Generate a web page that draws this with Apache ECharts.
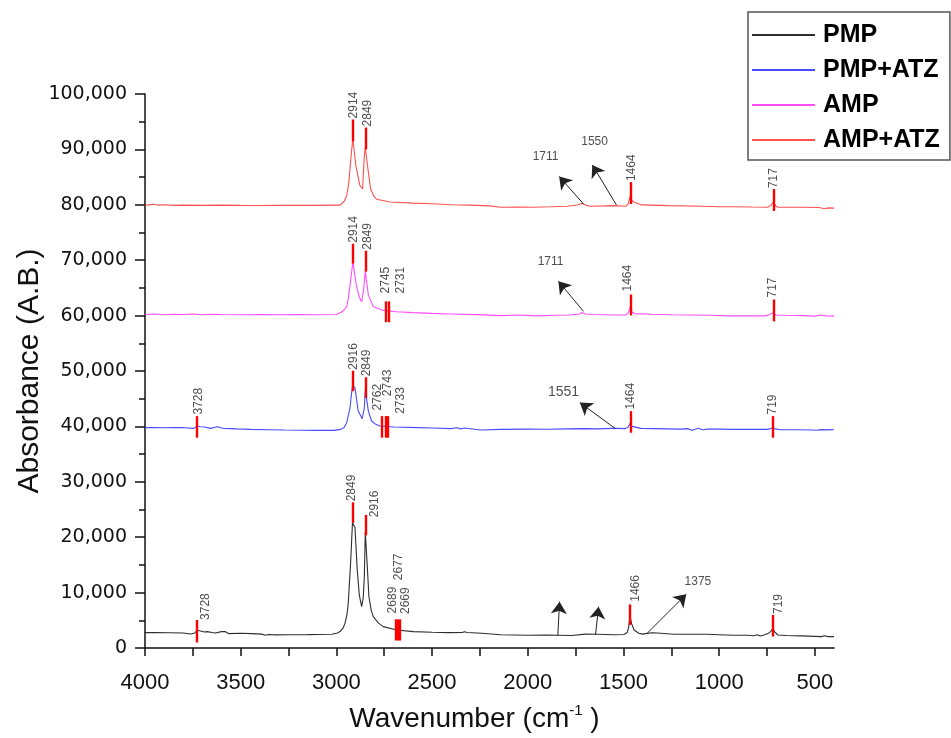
<!DOCTYPE html>
<html>
<head>
<meta charset="utf-8">
<script src="https://cdn.jsdelivr.net/npm/echarts@6/dist/echarts.min.js"></script>
<style>
  html, body { margin: 0; padding: 0; background: #fff; }
  #chart { width: 951px; height: 738px; }
</style>
</head>
<body>
<div id="chart"></div>
<script>
// ---- Data ([wavenumber cm-1, absorbance]) ----
const seriesNames = ['PMP', 'PMP+ATZ', 'AMP', 'AMP+ATZ'];
const seriesColors = ['#2e2e2e', '#4a4aff', '#ff4dff', '#ff5050'];

const pmpData = [
  [4000, 2780], [3950, 2800], [3880, 2750], [3800, 2700], [3761, 2540], [3740, 2700], [3728, 3200],
  [3715, 3100], [3690, 2900], [3675, 2960], [3650, 2800], [3632, 2700], [3600, 2950], [3590, 2850],
  [3580, 2950], [3563, 2600], [3500, 2650], [3441, 2600], [3390, 2500], [3370, 2300], [3355, 2450],
  [3316, 2370], [3250, 2400], [3150, 2420], [3100, 2450], [3024, 2480], [2995, 2700], [2981, 2960],
  [2965, 3600], [2955, 4450], [2945, 6000], [2938, 8040], [2925, 15830], [2916, 22590], [2903, 21810],
  [2891, 14040], [2880, 9500], [2868, 7450], [2860, 9000], [2854, 12840], [2849, 20920], [2839, 15000],
  [2830, 9250], [2818, 6800], [2807, 5660], [2780, 4500], [2755, 3860], [2685, 3260], [2598, 2960],
  [2500, 2850], [2414, 2780], [2343, 2800], [2330, 2950], [2317, 2800],
  [2240, 2660], [2142, 2400], [2000, 2300], [1900, 2350], [1843, 2300], [1768, 2250], [1760, 2500],
  [1700, 2500], [1637, 2480], [1550, 2400], [1498, 2450], [1480, 2800], [1472, 4000], [1466, 5780],
  [1458, 4450], [1445, 3260], [1420, 2660], [1400, 2500], [1385, 2600], [1375, 2900], [1350, 2750],
  [1323, 2700], [1236, 2480], [1150, 2480], [1062, 2480], [1000, 2400], [923, 2300], [850, 2300],
  [819, 2200], [800, 2400], [785, 2150], [767, 2350], [745, 2600], [730, 3000], [719, 3560], [710, 2900],
  [693, 2350], [650, 2250], [570, 2180], [500, 2100], [466, 2050], [450, 2200], [430, 2050], [400, 2060]
];

const pmpAtzData = [
  [4000, 39770], [3950, 39800], [3900, 39750], [3850, 39800], [3796, 39770], [3744, 39640], [3728, 40070],
  [3710, 39950], [3690, 39890], [3656, 39640], [3640, 39800], [3621, 39950], [3600, 39700], [3587, 39640],
  [3520, 39550], [3447, 39460], [3350, 39400], [3273, 39350], [3180, 39300], [3099, 39280], [3013, 39280],
  [2977, 39460], [2960, 39800], [2946, 40660], [2929, 43360], [2916, 47430], [2903, 46950], [2886, 42770],
  [2865, 41380], [2854, 43360], [2849, 46640], [2833, 42770], [2816, 40970], [2795, 40400], [2772, 40070],
  [2699, 39890], [2577, 39770], [2500, 39700],
  [2403, 39600], [2370, 39750], [2351, 39550], [2330, 39700], [2246, 39350], [2142, 39460], [2000, 39500],
  [1900, 39480], [1800, 39550], [1700, 39600], [1637, 39550], [1560, 39640], [1542, 39640], [1490, 39600],
  [1475, 39900], [1464, 40660], [1455, 40000], [1446, 39900], [1409, 39640], [1350, 39600], [1270, 39550],
  [1200, 39500], [1167, 39600], [1140, 39300], [1110, 39650], [1085, 39400], [1062, 39500], [1000, 39500],
  [923, 39460], [850, 39460], [749, 39460], [730, 39600], [719, 39770], [708, 39550], [680, 39390],
  [600, 39400], [520, 39350], [489, 39300], [470, 39420], [440, 39380], [402, 39410]
];

const ampData = [
  [4000, 60200], [3950, 60300], [3900, 60150], [3850, 60250], [3800, 60200], [3750, 60300], [3700, 60150],
  [3650, 60250], [3600, 60200], [3500, 60150], [3400, 60200], [3300, 60150], [3200, 60200], [3100, 60150],
  [3000, 60200], [2993, 60300], [2975, 60600], [2960, 61000], [2946, 61600], [2937, 63300], [2929, 65360],
  [2914, 69640], [2895, 65360], [2880, 63300], [2868, 62500], [2858, 64500], [2849, 68040], [2833, 63700],
  [2807, 61600], [2757, 60950], [2685, 60700], [2600, 60540],
  [2500, 60400], [2400, 60300], [2266, 60180], [2142, 60000], [2050, 60100], [1950, 59950], [1850, 60050],
  [1780, 60100], [1730, 60300], [1716, 60540], [1700, 60300], [1650, 60200], [1550, 60100], [1490, 60100],
  [1475, 60500], [1464, 61600], [1455, 60600], [1440, 60360], [1350, 60250], [1250, 60150], [1150, 60100],
  [1050, 60050], [950, 59950], [850, 59950], [760, 59950], [735, 60200], [717, 60540], [705, 60100],
  [650, 60050], [560, 60000], [500, 59900], [470, 60100], [440, 59950], [400, 59900]
];

const ampAtzData = [
  [4000, 79900], [3960, 80100], [3930, 79950], [3900, 80000], [3850, 79900], [3800, 79950], [3700, 79900],
  [3600, 79950], [3500, 79900], [3400, 79880], [3300, 79900], [3200, 79900], [3100, 79900], [3000, 79950],
  [2981, 79950], [2960, 80600], [2946, 81650], [2936, 83800], [2929, 86440], [2920, 90040], [2914, 91830],
  [2898, 87040], [2877, 83450], [2863, 82850], [2854, 88830], [2849, 90340], [2833, 85900], [2821, 82840],
  [2805, 81600], [2790, 81000], [2720, 80500],
  [2600, 80300], [2500, 80200], [2400, 80000], [2300, 79950], [2200, 79800], [2142, 79570], [2050, 79600],
  [1970, 79570], [1880, 79650], [1794, 79750], [1740, 79950], [1716, 80290], [1695, 79900], [1672, 79750],
  [1600, 79800], [1550, 79850], [1486, 79750], [1475, 80200], [1464, 81650], [1456, 80800], [1445, 80470],
  [1404, 79980], [1266, 79860], [1180, 79800], [1093, 79750], [1000, 79650], [919, 79650], [830, 79600],
  [746, 79570], [730, 79900], [717, 80470], [705, 79800], [693, 79570], [570, 79570], [480, 79500],
  [447, 79300], [430, 79450], [400, 79400]
];

// Red peak marks: [wavenumber position, low, high]
const peakMarks = [
  [2914, 91450, 95400], [2849, 90000, 93950], [1464, 80150, 84100], [717, 78890, 82840],
  [2914, 69380, 72970], [2849, 67940, 71710], [2743, 58800, 62570], [2724, 58800, 62570], [1464, 60040, 63810], [717, 58960, 62910],
  [3728, 37960, 41860], [2916, 46350, 50040], [2849, 45140, 48860], [2762, 37960, 41860], [2743, 37960, 41860], [2733, 37960, 41860], [1464, 38860, 42760], [719, 37960, 41860],
  [3728, 990, 5060], [2916, 22580, 26300], [2849, 20320, 24020], [2689, 1350, 5170], [2680, 1350, 5170], [2669, 1350, 5170], [1466, 4160, 7860], [719, 2060, 5960]
];

// Vertical peak labels: [wavenumber, value at text start, text]
const peakLabels = [
  [2909, 95590, '2914'], [2839, 94150, '2849'], [1456, 84280, '1464'], [715, 83020, '717'],
  [2909, 73150, '2914'], [2839, 71890, '2849'], [2745, 63990, '2745'], [2664, 63990, '2731'], [1479, 64350, '1464'], [722, 63270, '717'],
  [3717, 42150, '3728'], [2911, 50220, '2916'], [2840, 49040, '2849'], [2785, 42860, '2762'], [2734, 45450, '2743'], [2664, 42270, '2733'], [1461, 43040, '1464'], [720, 42150, '719'],
  [3685, 5060, '3728'], [2922, 26480, '2849'], [2798, 23600, '2916'], [2707, 6250, '2689'], [2673, 12240, '2677'], [2638, 6140, '2669'], [1437, 8350, '1466'], [691, 6140, '719']
];

// Arrows: [tail wavenumber, tail value, head wavenumber, head value]
const arrows = [
  [1709, 80160, 1836, 85100], [1537, 79980, 1663, 87200],
  [1709, 60770, 1840, 66200],
  [1542, 39590, 1728, 44300],
  [1843, 2244, 1834, 8350], [1646, 2370, 1630, 7450], [1376, 2660, 1172, 9700]
];

// Horizontal arrow labels: [wavenumber, value, text, font size]
const arrowLabels = [
  [1907, 88600, '1711', 12], [1651, 91470, '1550', 12], [1881, 69750, '1711', 12],
  [1813, 46230, '1551', 14], [1111, 11990, '1375', 12]
];

const xTickValues = [500, 750, 1000, 1250, 1500, 1750, 2000, 2250, 2500, 2750, 3000, 3250, 3500, 3750, 4000];
const xLabelValues = [500, 1000, 1500, 2000, 2500, 3000, 3500, 4000];

// ---- Chart ----
const chart = echarts.init(document.getElementById('chart'), null, { renderer: 'canvas' });
const spectra = [pmpData, pmpAtzData, ampData, ampAtzData];
const font = 'Liberation Sans, Arial, sans-serif';

const series = spectra.map((d, i) => ({
  name: seriesNames[i],
  type: 'line',
  data: d,
  symbol: 'none',
  showSymbol: false,
  silent: true,
  lineStyle: { color: seriesColors[i], width: 1.1 },
  itemStyle: { color: seriesColors[i] },
  z: 2
}));

series.push({
  name: 'marks',
  type: 'scatter',
  data: [],
  silent: true,
  z: 5,
  markLine: {
    silent: true,
    animation: false,
    symbol: ['none', 'none'],
    label: { show: false },
    lineStyle: { color: '#ff0000', width: 2.4, type: 'solid' },
    emphasis: { disabled: true },
    data: peakMarks.map(m => [{ coord: [m[0], m[1]] }, { coord: [m[0], m[2]] }])
  }
});

series.push({
  name: 'arrows',
  type: 'scatter',
  data: [],
  silent: true,
  z: 6,
  markLine: {
    silent: true,
    animation: false,
    symbol: ['none', 'arrow'],
    symbolSize: 12,
    label: { show: false },
    lineStyle: { color: '#222', width: 1, type: 'solid' },
    itemStyle: { color: '#111' },
    emphasis: { disabled: true },
    data: arrows.map(a => [{ coord: [a[0], a[1]] }, { coord: [a[2], a[3]] }])
  }
});

series.push({
  name: 'peakText',
  type: 'scatter',
  silent: true,
  z: 7,
  symbolSize: 1,
  itemStyle: { color: 'rgba(0,0,0,0)' },
  data: peakLabels.map(l => ({
    value: [l[0], l[1]],
    label: {
      show: true, formatter: l[2], position: 'inside', rotate: 90,
      align: 'left', verticalAlign: 'middle',
      fontFamily: font, fontSize: 12, color: '#222'
    }
  }))
});

series.push({
  name: 'arrowText',
  type: 'scatter',
  silent: true,
  z: 7,
  symbolSize: 1,
  itemStyle: { color: 'rgba(0,0,0,0)' },
  data: arrowLabels.map(l => ({
    value: [l[0], l[1]],
    label: {
      show: true, formatter: l[2], position: 'inside',
      align: 'center', verticalAlign: 'middle',
      fontFamily: font, fontSize: l[3], color: '#222'
    }
  }))
});

chart.setOption({
  animation: false,
  backgroundColor: '#fff',
  grid: { left: 145, right: 117, top: 94, bottom: 87, containLabel: false },
  legend: {
    data: seriesNames,
    orient: 'vertical',
    left: 748, top: 12,
    icon: 'rect',
    itemWidth: 63, itemHeight: 2, itemGap: 7,
    padding: [9, 10, 6, 4],
    backgroundColor: '#fff',
    borderColor: '#555', borderWidth: 1.5, borderRadius: 0,
    selectedMode: false,
    textStyle: { fontFamily: font, fontSize: 25, fontWeight: 'bold', color: '#000', lineHeight: 28, padding: [0, 0, 0, 3] }
  },
  xAxis: {
    type: 'value',
    min: 400, max: 4000,
    inverse: true,
    name: '{a|Wavenumber (cm}{s|-1}{a| )}',
    nameLocation: 'middle',
    nameGap: 55,
    nameMoveOverlap: false,
    nameTextStyle: {
      padding: [0, 30, 0, 0],
      rich: {
        a: { fontFamily: font, fontSize: 28, color: '#111', lineHeight: 32 },
        s: { fontFamily: font, fontSize: 15, color: '#111', lineHeight: 16, verticalAlign: 'top' }
      }
    },
    axisLine: { show: true, onZero: false, lineStyle: { color: '#111', width: 1.5 } },
    axisTick: { show: true, inside: false, length: 8, customValues: xTickValues, lineStyle: { color: '#111', width: 1.5 } },
    axisLabel: {
      customValues: xLabelValues, fontFamily: font, fontSize: 22, color: '#111', margin: 24,
      formatter: v => String(v)
    },
    splitLine: { show: false }
  },
  yAxis: {
    type: 'value',
    min: 0, max: 100000, interval: 10000,
    name: 'Absorbance (A.B.)',
    nameLocation: 'middle',
    nameGap: 100,
    nameMoveOverlap: false,
    nameTextStyle: { fontFamily: font, fontSize: 30, color: '#111' },
    axisLine: { show: true, onZero: false, lineStyle: { color: '#111', width: 1.5 } },
    axisTick: { show: true, inside: false, length: 10, lineStyle: { color: '#111', width: 1.5 } },
    minorTick: { show: true, splitNumber: 2, length: 6, lineStyle: { color: '#111', width: 1.5 } },
    axisLabel: {
      fontFamily: 'DejaVu Sans, sans-serif', fontSize: 19, color: '#111', margin: 18,
      formatter: v => String(v).replace(/\B(?=(\d{3})+(?!\d))/g, ',')
    },
    splitLine: { show: false },
    minorSplitLine: { show: false }
  },
  series: series
});
</script>
</body>
</html>
